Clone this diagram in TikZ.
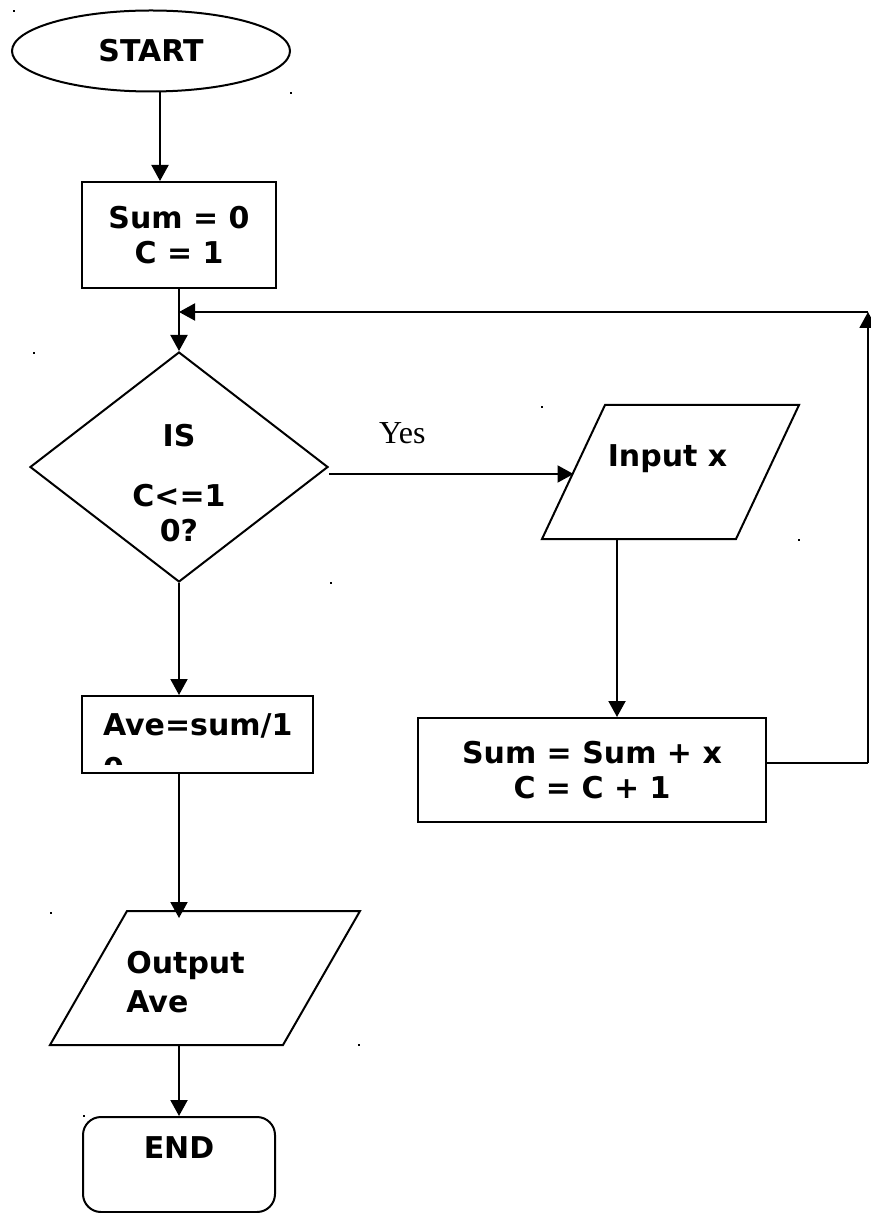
\documentclass[tikz,border=0pt]{standalone}
\usepackage{fontspec}
\newfontfamily\boxfont{DejaVu Sans}
\newfontfamily\yesfont{Liberation Serif}
\usetikzlibrary{arrows.meta, positioning, shapes.geometric}

\tikzset{
  flow/.style={draw, line width=1pt, font=\boxfont\bfseries\fontsize{15}{17.5}\selectfont, align=center, inner sep=0pt},
  txt/.style={flow, draw=none},
  terminal/.style={flow, ellipse},
  process/.style={flow, rectangle},
  decision/.style={flow, diamond},
  io/.style={txt, rectangle},
  stopbox/.style={flow, rectangle, rounded corners=9pt},
  link/.style={line width=1pt, -{Triangle[length=8pt, width=8.5pt]}}
}

\begin{document}
\begin{tikzpicture}[x=0.5pt, y=-0.5pt]
  \useasboundingbox (0,0) rectangle (871,1213);

  % Start and init
  \node[terminal, minimum width=139pt, minimum height=40.5pt] (start) at (151,51) {START};
  \node[process, minimum width=97pt, minimum height=53pt] (init) at (179,235) {Sum = 0\\C = 1};

  % Loop test
  \node[decision, minimum width=149pt, minimum height=115pt,
    label={[txt, name=testtxt, yshift=-8.25pt]center:IS\\[12.5pt]C<=1\\0?}] (test) at (179,467) {};

  % Input and update
  \node[io, minimum width=96pt, minimum height=66pt,
    label={[txt, name=inptxt, xshift=-1.5pt, yshift=6.75pt]center:Input x}] (inp) at (670.5,472) {};
  \draw[line width=1pt] ([xshift=15.75pt]inp.north west) -- ([xshift=15.75pt]inp.north east)
    -- ([xshift=-15.75pt]inp.south east) -- ([xshift=-15.75pt]inp.south west) -- cycle;
  \node[process, minimum width=174pt, minimum height=52pt] (upd) at (592,770) {Sum = Sum + x\\C = C + 1};

  % Average and output
  \node[process, minimum width=115.5pt, minimum height=38.5pt] (ave) at (197.5,734.5) {};
  \begin{scope}
    \clip (ave.north west) rectangle ([yshift=5pt]ave.south east);
    \node[txt, align=left, anchor=north west] (avetxt) at ([xshift=10.5pt, yshift=-9pt]ave.north west) {Ave=sum/1\\[4.5pt]0};
  \end{scope}
  \node[io, minimum width=115.5pt, minimum height=66pt,
    label={[txt, align=left, name=outtxt, xshift=-9.75pt, yshift=-2.25pt]center:Output\\[2pt]Ave}] (out) at (205,978) {};
  \draw[line width=1pt] ([xshift=19.25pt]out.north west) -- ([xshift=19.25pt]out.north east)
    -- ([xshift=-19.25pt]out.south east) -- ([xshift=-19.25pt]out.south west) -- cycle;
  \node[stopbox, minimum width=96pt, minimum height=47.5pt,
    label={[txt, name=stoptxt, yshift=8.25pt]center:END}] (stop) at (179,1164.5) {};

  % Connectors
  \draw[link] ([xshift=4.5pt]start.south) -- ([xshift=4.5pt]start.south |- init.north);
  \draw[link] (init) -- (test);
  \draw[link] ([yshift=-3.5pt]test.east) -- ([yshift=-3.5pt]test.east -| inp.west)
    node[pos=0.3, above=14.5pt, inner sep=0pt, font=\yesfont\fontsize{16}{19}\selectfont] (yes) {Yes};
  \draw[link] ([xshift=-26.75pt]inp.south) -- ([xshift=-26.75pt]inp.south |- upd.north);

  % Loop back
  \coordinate (rc) at (868,763);
  \coordinate (rt) at (868,312);
  \coordinate (lj) at (179,312);
  \draw[line width=1pt] (upd.east |- rc) -- (rc);
  \draw[link] (rc) -- (rt);
  \draw[link] (rt) -- (lj);

  \draw[link] (test.south) -- (test.south |- ave.north);
  \draw[link] (test.south |- ave.south) -- ([yshift=-3.5pt]test.south |- out.north);
  \draw[link] (test.south |- out.south) -- (stop);

  % Stray marks
  \foreach \x/\y in {13/10, 290/92, 33/352, 541/406, 798/539, 330/582, 50/912, 83/1115, 358/1044}
    \fill (\x,\y) rectangle ++(2,2);
\end{tikzpicture}
\end{document}
